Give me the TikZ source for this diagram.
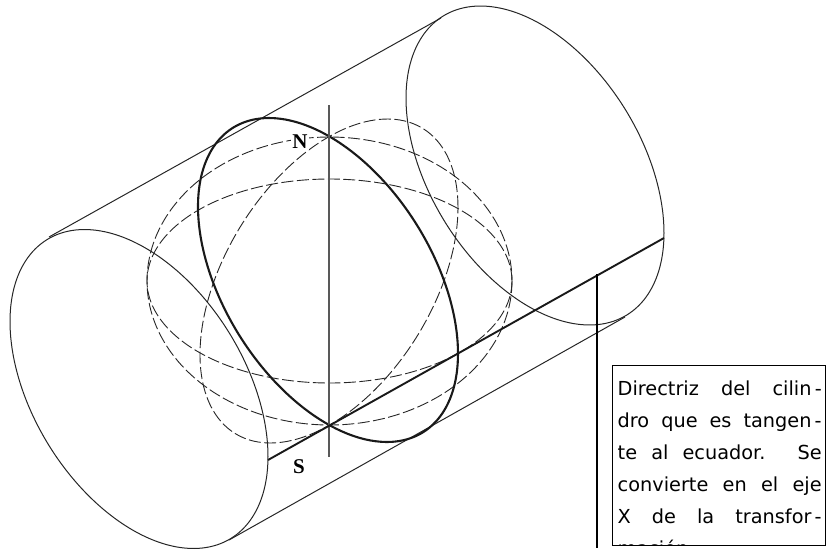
\documentclass[tikz,border=0pt]{standalone}
\usepackage{fontspec}
\setmainfont{DejaVu Sans}
\newfontfamily\polefont{Liberation Serif}
\tikzset{
  thin line/.style={line width=1pt,black!85},
  round line/.style={line width=2.1pt,black!90},
  dash line/.style={line width=0.9pt,black!85,dash pattern=on 12pt off 3.5pt},
  pole/.style={font=\polefont\bfseries\fontsize{21}{21}\selectfont,inner sep=1pt}
}
\begin{document}
\begin{tikzpicture}[x=1pt,y=-1pt]
\useasboundingbox (0,0) rectangle (827,549);

\draw[thin line] plot[domain=0:360,samples=90,smooth] ({535+129*cos(\x)},{165.5+159.5*cos(\x-65)}) -- cycle;
\draw[thin line] plot[domain=0:360,samples=90,smooth] ({139+129*cos(\x)},{389+159.5*cos(\x-65)}) -- cycle;
\coordinate (topLeft) at (49,237);
\coordinate (topRight) at (441,18);
\coordinate (bottomLeft) at (229,540);
\coordinate (bottomRight) at (625,317);
\draw[thin line] (topLeft) -- (topRight);
\draw[thin line] (bottomLeft) -- (bottomRight);

\draw[dash line] plot[domain=0:360,samples=90,smooth] ({329+129*cos(\x)},{281+162*cos(\x+117)}) -- cycle;
\draw[dash line] plot[domain=0:360,samples=90,smooth] ({329.5+182.5*cos(\x)},{281+102*sin(\x)}) -- cycle;
\draw[dash line] plot[domain=0:360,samples=90,smooth] ({329.5+182.5*cos(\x)},{281+144*sin(\x)}) -- cycle;

\draw[round line] plot[domain=0:360,samples=90,smooth] ({328+130*cos(\x)},{280+162*cos(\x-63)}) -- cycle;

\coordinate (axisTop) at (329,105);
\coordinate (axisBottom) at (329,457);
\draw[line width=1.2pt,black!65] (axisTop) -- (axisBottom);

\coordinate (directrizStart) at (268,460);
\coordinate (directrizEnd) at (664,238);
\draw[line width=1.9pt,black!90] (directrizStart) -- (directrizEnd);

\coordinate (leaderTop) at (597,274);
\coordinate (leaderBottom) at (597,548);
\draw[line width=1.1pt] (leaderTop) -- (leaderBottom);

\node[pole,fill=white] (north) at (300,142) {N};
\node[pole] (south) at (299,467) {S};

\node[draw=black,line width=1.2pt,anchor=north west,minimum width=213pt,minimum height=180pt,inner sep=0pt,
  path picture={\node[anchor=north west,inner sep=0pt,minimum width=0pt,minimum height=0pt,text width=204pt,align=justify,
    font=\fontsize{19.3}{32}\selectfont] (notetext) at ([xshift=4.5pt,yshift=-15pt]path picture bounding box.north west)
    {Directriz del cilin\,-\linebreak dro que es tangen\,-\linebreak te al ecuador. Se\linebreak convierte en el eje\linebreak X de la transfor\,-\linebreak mación.};}]
  (note) at (612,365) {};
\end{tikzpicture}
\end{document}
